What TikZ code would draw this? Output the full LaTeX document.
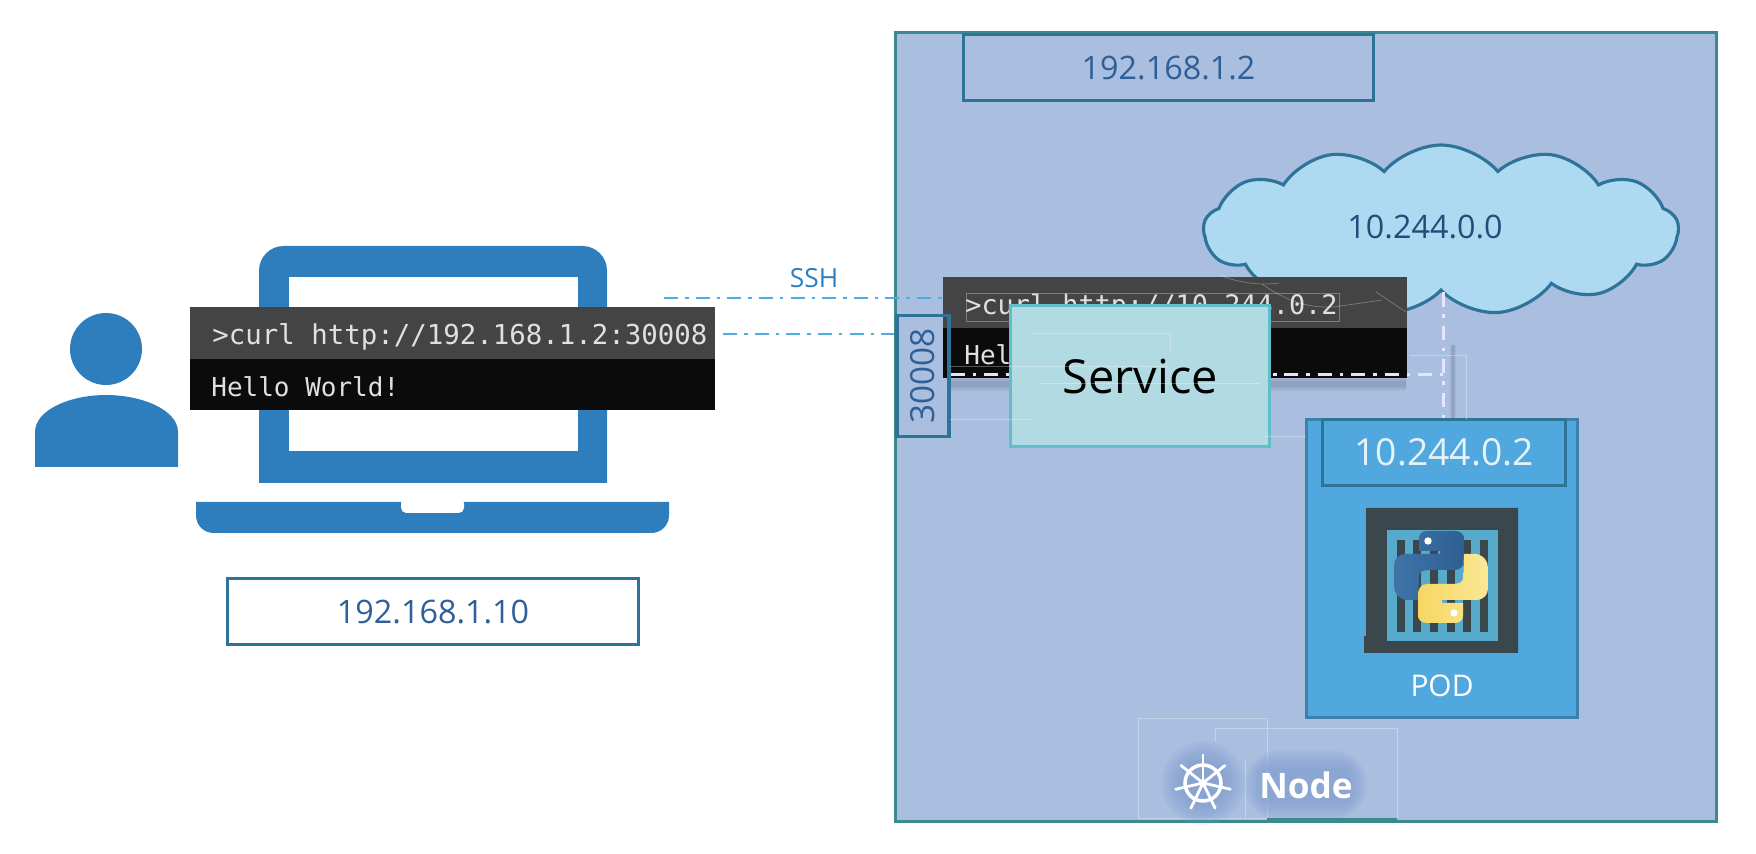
\documentclass[tikz,border=0pt]{standalone}
\usepackage{fontspec}
\setmainfont{Open Sans}
\newfontfamily\termfont{DejaVu Sans Mono}
\usetikzlibrary{positioning,shapes.symbols}

\definecolor{laptopblue}{HTML}{2E7EBD}
\definecolor{nodefill}{HTML}{AABEE0}
\definecolor{nodeedge}{HTML}{3A8A8E}
\definecolor{boxedge}{HTML}{2E7498}
\definecolor{labelblue}{HTML}{2F5F97}
\definecolor{podfill}{HTML}{50A8DF}
\definecolor{podedge}{HTML}{3C80AC}
\definecolor{wireblue}{HTML}{4FADE3}
\definecolor{termgrey}{HTML}{444444}
\definecolor{termblack}{HTML}{0B0B0B}
\definecolor{cratedark}{HTML}{3A474C}
\definecolor{crateblue}{HTML}{58AACB}
\definecolor{glowblue}{HTML}{7E9BCF}
\definecolor{cloudfill}{HTML}{ADDAF1}
\definecolor{servicefill}{HTML}{B2DAE2}
\definecolor{serviceedge}{HTML}{5FBEC8}
\definecolor{snakeblue}{HTML}{3F74A8}
\definecolor{snakedark}{HTML}{2F5F93}
\definecolor{snakeyellow}{HTML}{F6D662}
\definecolor{snakepale}{HTML}{FAE896}

\tikzset{
  ipbox/.style={draw=boxedge,line width=1.8pt,inner sep=0pt,text=labelblue,font=\fontsize{18.4}{22}\selectfont},
  termband/.style={inner sep=0pt,minimum width=#1*0.02cm,minimum height=1.06cm,anchor=north west},
  termtext/.style={inner sep=0pt,anchor=west,text=white!88!black,font=\termfont\fontsize{15.6}{18}\selectfont},
  wire/.style={color=wireblue,line width=1.5pt,dash pattern=on 8pt off 4pt on 2pt off 4pt},
  wirewhite/.style={color=white!90!blue,line width=1.6pt,dash pattern=on 8pt off 4.5pt on 2pt off 4.5pt},
  ghost/.style={draw=white,opacity=.3,line width=.4pt},
}

\newcommand{\snakepath}{(-22,-39) .. controls (-22,-44) and (-18,-46) .. (-14,-46) -- (14,-46)
  .. controls (19,-46) and (23,-43) .. (23,-39) -- (23,-17) .. controls (23,-11) and (19,-7) .. (14,-7)
  -- (-12,-7) .. controls (-18,-7) and (-22,-5) .. (-22,-1) -- (-23,23) -- (-36,23)
  .. controls (-43,21) and (-47,16) .. (-47,9) -- (-47,-11) .. controls (-47,-17) and (-44,-22) .. (-36,-23)
  -- (-1,-23) -- (-1,-26) -- (-22,-26) -- cycle}

\begin{document}
\begin{tikzpicture}[x=0.02cm,y=-0.02cm]
  \useasboundingbox (0,0) rectangle (1756,854);

  % user
  \fill[laptopblue] (106,349) circle (36);
  \fill[laptopblue] (35,467) -- (35,432) .. controls (35,410) and (70,395) .. (106,395)
    .. controls (142,395) and (178,410) .. (178,432) -- (178,467) -- cycle;

  % laptop
  \fill[laptopblue] (259,483) [rounded corners=14] -- (259,246) -- (607,246) [sharp corners] -- (607,483) -- cycle;
  \fill[white] (289,277) rectangle (578,451);
  \fill[laptopblue] (196,502) -- (669,502) [rounded corners=10] -- (669,533) -- (196,533) [sharp corners] -- cycle;
  \fill[white,rounded corners=3] (401,498) -- (401,513) -- (464,513) -- (464,498) -- cycle;

  % terminal on the laptop
  \node[termband=525,fill=termgrey] (termhead) at (190,307) {};
  \node[termband=525,fill=termblack,minimum height=1.02cm] (termbody) at (190,359) {};
  \node[termtext,right=0.44cm of termhead.west,yshift=-2pt] (curlport) {>curl http://192.168.1.2:30008};
  \node[termtext,right=0.42cm of termbody.west,yshift=-1pt,font=\termfont\fontsize{14.8}{18}\selectfont] (hello) {Hello World!};

  \node[ipbox,fill=white,minimum width=8.22cm,minimum height=1.32cm,anchor=north west] (laptopip) at (226,577) {192.168.1.10};

  % the node
  \node[draw=nodeedge,fill=nodefill,line width=1.8pt,inner sep=0pt,minimum width=16.42cm,minimum height=15.78cm,anchor=north west] (k8snode) at (894,31) {};
  \node[ipbox,minimum width=8.2cm,minimum height=1.32cm,anchor=north west] (nodeip) at (962,33) {192.168.1.2};
  \node[cloud,draw=boxedge,fill=cloudfill,line width=1.8pt,inner sep=0pt,cloud puffs=13,cloud puff arc=100,aspect=2.75,
    minimum width=9.5cm,minimum height=3.4cm] (cloudnet) at (1441,230) {};
  \node[inner sep=0pt,text=labelblue!80!black,font=\fontsize{18.4}{22}\selectfont,below left=-0.3cm and -1.24cm of cloudnet.center] (netlabel) {10.244.0.0};
  \coordinate (wiretop) at ([xshift=1.5pt]cloudnet.south);

  % terminal on the node
  \node[termband=464,fill=termgrey] (nodehead) at (943,277) {};
  \node[termband=464,fill=termblack,minimum height=1cm] (nodebody) at (943,328) {};
  \node[termtext,right=0.44cm of nodehead.west,yshift=-2pt,font=\termfont\fontsize{15.3}{18}\selectfont] (curlpod) {>curl http://10.244.0.2};
  \node[termtext,right=0.42cm of nodebody.west,yshift=-1pt,font=\termfont\fontsize{14.8}{18}\selectfont] (hellopod) {Hel};
  \draw[ghost] (966,293) rectangle (1339,321);
  \draw[ghost] (1220,275) .. controls (1235,282) and (1260,286) .. (1279,283);
  \draw[ghost] (1262,284) .. controls (1285,300) and (1305,308) .. (1334,307) -- (1382,300);
  \draw[ghost] (1376,292) -- (1406,312);

  % shadows of the wires
  \foreach \w/\o in {7/.04, 5/.05, 3/.06} {
    \fill[black,opacity=\o] (950,384-\w) rectangle (1406,384+\w);
    \draw[black,opacity=\o,line width=\w*0.5pt] (1453,345) -- (1453,430);
  }

  % pod
  \node[draw=podedge,fill=podfill,line width=1.8pt,inner sep=0pt,minimum width=5.42cm,minimum height=5.96cm,anchor=north west] (pod) at (1305,418) {};
  \node[draw=boxedge,line width=1.8pt,inner sep=0pt,minimum width=4.86cm,minimum height=1.32cm,anchor=north west,text=white!85!podfill,font=\fontsize{21.2}{25}\selectfont] (podip) at (1321,418) {10.244.0.2};
  \node[inner sep=0pt,text=white,font=\fontsize{17}{20}\selectfont] (podname) at (1442,686) {POD};

  % wires
  \coordinate (sshstart) at (664,298);
  \coordinate (curlstart) at (723,334);
  \draw[wire,line width=1pt] (sshstart) -- (sshstart -| nodehead.west);
  \draw[wire] (curlstart) -- (curlstart -| k8snode.west);
  \node[inner sep=0pt,text=laptopblue,font=\fontsize{15}{18}\selectfont] (sshlabel) at (814,278) {SSH};
  \draw[wirewhite,line width=2.1pt] (wiretop) -- (wiretop |- podip.north);

  % port
  \node[draw=boxedge,line width=1.8pt,inner sep=0pt,minimum width=2.42cm,minimum height=1.04cm,rotate=90,text=labelblue,font=\fontsize{18.9}{22}\selectfont] (port) at (923,376) {30008};
  \coordinate (portout) at ([yshift=1pt]port.south);
  \draw[wirewhite] (portout) -- (portout -| wiretop);

  % service
  \node[draw=serviceedge,fill=servicefill,line width=1.8pt,inner sep=0pt,minimum width=5.18cm,minimum height=2.82cm,anchor=north west,
    text=black,font=\fontsize{26.7}{32}\selectfont] (service) at (1009,304) {Service};
  \draw[ghost] (1030,333) -- (1170,333) -- (1170,353);
  \draw[ghost] (1040,383) -- (1260,383);
  \draw[ghost] (950,366) -- (1170,366);
  \draw[ghost] (950,419) -- (1030,419);
  \draw[ghost] (1265,436) -- (1306,436);
  \draw[ghost] (1410,355) -- (1466,355) -- (1466,420);

  % crate with the python logo
  \fill[cratedark] (1366,508) -- (1518,508) -- (1518,653) -- (1364,653) -- (1364,636) -- (1366,636) -- cycle;
  \fill[crateblue] (1387,530) rectangle (1498,641);
  \foreach \x in {1397,1413,1430,1447,1463,1480} {
    \fill[cratedark] (\x,540) rectangle (\x+8,632);
  }
  \begin{scope}[shift={(1441,577)}]
    \shade[left color=snakeblue,right color=snakedark] \snakepath;
    \fill[white] (-13,-36) circle (3.7);
    \begin{scope}[rotate=180]
      \shade[left color=snakeyellow,right color=snakepale] \snakepath;
      \fill[white] (-13,-36) circle (3.7);
    \end{scope}
  \end{scope}

  % node badge
  \draw[ghost] (1138,718) rectangle (1267,818);
  \draw[ghost] (1215,742) -- (1215,728) -- (1397,728) -- (1397,818);
  \draw[ghost] (1245,818) -- (1245,760);
  \foreach \r in {42,39,...,21} {
    \fill[glowblue,opacity=.13] (1203,783) circle (\r);
  }
  \foreach \g in {18,15,...,0} {
    \fill[glowblue,opacity=.13,rounded corners=\g+3] (1262-\g,768-\g) rectangle (1350+\g,802+\g);
  }
  \draw[white,line width=2pt] (1203,783) circle (18);
  \fill[white] (1203,783) circle (4);
  \foreach \a in {-90,-38.6,12.8,64.3,115.7,167.1,218.6} {
    \draw[white,line width=1.6pt,line cap=round] (1203,783) -- ++(\a:28);
  }
  \node[inner sep=0pt,text=white,font=\bfseries\fontsize{20}{24}\selectfont] (nodename) at (1306,785) {Node};
  \fill[nodeedge] (1267,818) rectangle (1397,823);
\end{tikzpicture}
\end{document}
